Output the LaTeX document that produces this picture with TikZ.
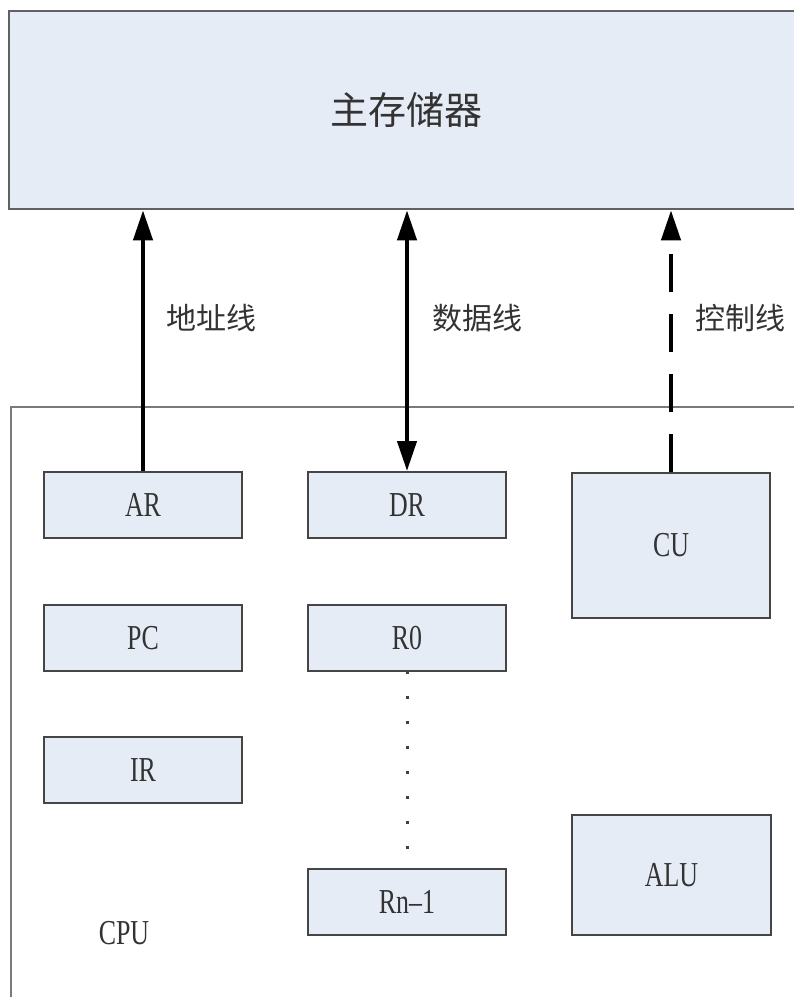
\documentclass[tikz,border=0pt]{standalone}
\usepackage{fontspec}
\newfontfamily\latfont{Liberation Serif}[FakeStretch=0.74]
\newfontfamily\cjk{Noto Sans CJK SC}
\usetikzlibrary{arrows.meta}
\definecolor{boxfill}{HTML}{E6ECF6}
\definecolor{boxline}{HTML}{454545}
\definecolor{frameline}{HTML}{7A7A7A}
\definecolor{txt}{HTML}{333333}
\tikzset{
  reg/.style={draw=boxline, line width=2pt, fill=boxfill, inner sep=0pt,
    minimum width=198pt, minimum height=66pt, text=txt,
    font=\latfont\fontsize{35}{37}\selectfont},
  membox/.style={draw=boxline!85, line width=2.6pt, fill=boxfill, inner sep=0pt,
    minimum width=800pt, minimum height=198pt, text=txt,
    font=\cjk\fontsize{38}{40}\selectfont},
  cpuframe/.style={draw=frameline, line width=2.4pt, inner sep=0pt,
    minimum width=800pt, minimum height=610pt},
  buslabel/.style={text=txt, font=\cjk\fontsize{30}{32}\selectfont, anchor=west, inner sep=0pt},
  bus/.style={line width=4.2pt, black},
  bustip/.style={-{Triangle[length=30pt,width=19pt]}},
  dotline/.style={line width=3pt, black!75, dash pattern=on 3pt off 22pt},
}
\begin{document}
\begin{tikzpicture}[x=1pt,y=-1pt]
\clip (0,0) rectangle (794,997);
\fill[white] (0,0) rectangle (794,997);
% main memory
\node[membox] (mem) at (409,110) {\hspace*{-6pt}主存储器};
% CPU frame
\node[cpuframe] (cpu) at (411,712) {};
\node[text=txt, font=\latfont\fontsize{35}{37}\selectfont, inner sep=0pt] (cpulabel) at (124,933) {CPU};
% dots between R0 and Rn-1 (drawn under boxes)
\coordinate (dtop) at (407,671);
\coordinate (dbot) at (407,857);
\draw[dotline] (dtop) -- (dbot);
% registers
\node[reg] (AR) at (143,505) {AR};
\node[reg] (PC) at (143,638) {PC};
\node[reg] (IR) at (143,770) {IR};
\node[reg] (DR) at (407,505) {DR};
\node[reg] (R0) at (407,638) {R0};
\node[reg] (Rn) at (407,902) {Rn–1};
\node[reg, minimum height=145pt] (CU) at (671,545.5) {CU};
\node[reg, minimum height=120pt, minimum width=199pt] (ALU) at (671.5,875) {ALU};
% buses
\draw[bus, bustip] (AR.north) -- (AR.north |- mem.south);
\draw[bus, {Triangle[length=30pt,width=19pt]}-{Triangle[length=30pt,width=19pt]}] (DR.north) -- (DR.north |- mem.south);
\draw[bus, bustip, dash pattern=on 38pt off 22pt] (CU.north) -- (CU.north |- mem.south);
% labels
\node[buslabel] (la) at (166,318) {地址线};
\node[buslabel] (ld) at (432,318) {数据线};
\node[buslabel] (lc) at (695,318) {控制线};
\end{tikzpicture}
\end{document}
